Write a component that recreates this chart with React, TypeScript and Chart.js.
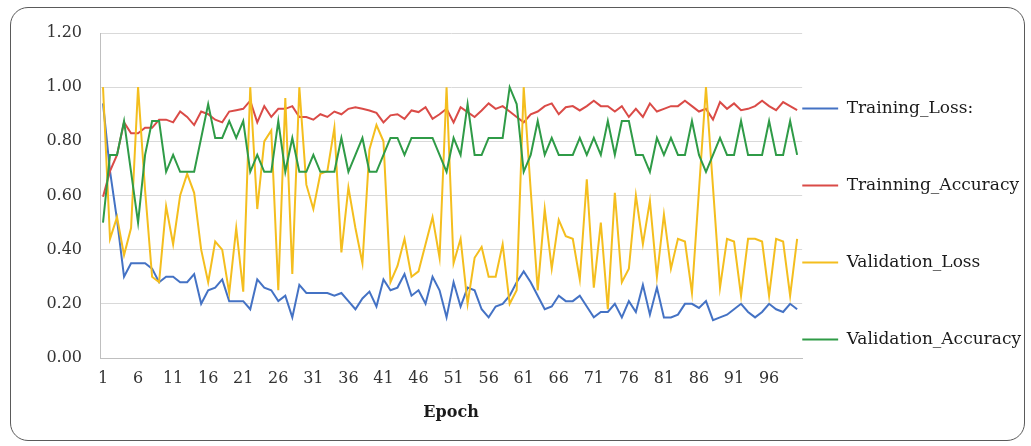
import React, { useEffect, useRef } from "react";
import { Chart, registerables } from "chart.js";

Chart.register(...registerables);

// ---- data ----
const epochs: number[] = Array.from({ length: 100 }, (_, i) => i + 1);
const xTickLabels: number[] = [1, 6, 11, 16, 21, 26, 31, 36, 41, 46, 51, 56, 61, 66, 71, 76, 81, 86, 91, 96];
const yTickMin = 0;
const yTickMax = 1.2;
const yTickStep = 0.2;

const seriesNames: string[] = ["Training_Loss:", "Trainning_Accuracy", "Validation_Loss", "Validation_Accuracy"];

const trainingLoss: number[] = [
  0.94, 0.69, 0.51, 0.30, 0.35, 0.35, 0.35, 0.33, 0.28, 0.30,
  0.30, 0.28, 0.28, 0.31, 0.20, 0.25, 0.26, 0.29, 0.21, 0.21,
  0.21, 0.18, 0.29, 0.26, 0.25, 0.21, 0.23, 0.15, 0.27, 0.24,
  0.24, 0.24, 0.24, 0.23, 0.24, 0.21, 0.18, 0.22, 0.245, 0.19,
  0.29, 0.25, 0.26, 0.31, 0.23, 0.25, 0.20, 0.30, 0.25, 0.15,
  0.28, 0.19, 0.26, 0.25, 0.18, 0.15, 0.19, 0.20, 0.23, 0.28,
  0.32, 0.28, 0.23, 0.18, 0.19, 0.23, 0.21, 0.21, 0.23, 0.19,
  0.15, 0.17, 0.17, 0.20, 0.15, 0.21, 0.17, 0.27, 0.16, 0.26,
  0.15, 0.15, 0.16, 0.20, 0.20, 0.185, 0.21, 0.14, 0.15, 0.16,
  0.18, 0.20, 0.17, 0.15, 0.17, 0.20, 0.18, 0.17, 0.20, 0.18,
];

const trainingAccuracy: number[] = [
  0.595, 0.69, 0.75, 0.87, 0.83, 0.83, 0.85, 0.85, 0.88, 0.88,
  0.87, 0.91, 0.89, 0.86, 0.91, 0.90, 0.88, 0.87, 0.91, 0.915,
  0.92, 0.95, 0.87, 0.93, 0.89, 0.92, 0.92, 0.93, 0.89, 0.89,
  0.88, 0.90, 0.89, 0.91, 0.90, 0.92, 0.926, 0.92, 0.914, 0.905,
  0.87, 0.896, 0.90, 0.883, 0.914, 0.908, 0.926, 0.883, 0.90, 0.92,
  0.87, 0.926, 0.908, 0.89, 0.914, 0.94, 0.92, 0.93, 0.91, 0.89,
  0.87, 0.90, 0.91, 0.93, 0.94, 0.90, 0.926, 0.93, 0.914, 0.93,
  0.95, 0.93, 0.93, 0.91, 0.93, 0.89, 0.92, 0.89, 0.94, 0.91,
  0.92, 0.93, 0.93, 0.95, 0.93, 0.91, 0.92, 0.88, 0.945, 0.92,
  0.94, 0.915, 0.92, 0.93, 0.95, 0.93, 0.915, 0.945, 0.93, 0.915,
];

const validationLoss: number[] = [
  1.0, 0.44, 0.52, 0.38, 0.48, 1.0, 0.62, 0.30, 0.28, 0.56,
  0.42, 0.60, 0.68, 0.61, 0.40, 0.28, 0.43, 0.40, 0.24, 0.48,
  0.245, 1.0, 0.55, 0.80, 0.84, 0.25, 0.96, 0.31, 1.0, 0.64,
  0.55, 0.68, 0.69, 0.85, 0.39, 0.63, 0.48, 0.35, 0.77, 0.86,
  0.80, 0.28, 0.34, 0.44, 0.30, 0.32, 0.42, 0.52, 0.37, 1.0,
  0.35, 0.44, 0.20, 0.37, 0.41, 0.30, 0.30, 0.42, 0.20, 0.25,
  1.0, 0.62, 0.25, 0.55, 0.33, 0.51, 0.45, 0.44, 0.29, 0.66,
  0.26, 0.50, 0.18, 0.61, 0.28, 0.33, 0.60, 0.42, 0.58, 0.30,
  0.53, 0.33, 0.44, 0.43, 0.24, 0.62, 1.0, 0.63, 0.26, 0.44,
  0.43, 0.23, 0.44, 0.44, 0.43, 0.23, 0.44, 0.43, 0.23, 0.44,
];

const validationAccuracy: number[] = [
  0.5, 0.75, 0.75, 0.875, 0.6875, 0.5, 0.75, 0.875, 0.875, 0.6875,
  0.75, 0.6875, 0.6875, 0.6875, 0.8125, 0.9375, 0.8125, 0.8125, 0.875, 0.8125,
  0.875, 0.6875, 0.75, 0.6875, 0.6875, 0.875, 0.6875, 0.8125, 0.6875, 0.6875,
  0.75, 0.6875, 0.6875, 0.6875, 0.8125, 0.6875, 0.75, 0.8125, 0.6875, 0.6875,
  0.75, 0.8125, 0.8125, 0.75, 0.8125, 0.8125, 0.8125, 0.8125, 0.75, 0.6875,
  0.8125, 0.75, 0.9375, 0.75, 0.75, 0.8125, 0.8125, 0.8125, 1.0, 0.9375,
  0.6875, 0.75, 0.875, 0.75, 0.8125, 0.75, 0.75, 0.75, 0.8125, 0.75,
  0.8125, 0.75, 0.875, 0.75, 0.875, 0.875, 0.75, 0.75, 0.6875, 0.8125,
  0.75, 0.8125, 0.75, 0.75, 0.875, 0.75, 0.6875, 0.75, 0.8125, 0.75,
  0.75, 0.875, 0.75, 0.75, 0.75, 0.875, 0.75, 0.75, 0.875, 0.75,
];

const seriesValues: number[][] = [trainingLoss, trainingAccuracy, validationLoss, validationAccuracy];
const seriesColors: string[] = ["#4472C4", "#DA4B47", "#F4BE1E", "#2F9B47"];

const FONT = "'DejaVu Serif', 'Liberation Serif', serif";

export default function App() {
  const canvasRef = useRef<HTMLCanvasElement | null>(null);

  useEffect(() => {
    const canvas = canvasRef.current;
    if (!canvas) return;
    const chart = new Chart(canvas, {
      type: "line",
      data: {
        datasets: seriesNames.map((name, k) => ({
          label: name,
          data: seriesValues[k].map((v, i) => ({ x: epochs[i], y: v })),
          borderColor: seriesColors[k],
          backgroundColor: seriesColors[k],
          borderWidth: 2,
          pointRadius: 0,
          pointHoverRadius: 0,
          tension: 0,
          fill: false,
          order: seriesNames.length - k,
        })),
      },
      options: {
        responsive: false,
        animation: false,
        devicePixelRatio: 1,
        layout: { padding: { left: 46, right: 0, top: 33, bottom: 24 } },
        scales: {
          x: {
            type: "linear",
            min: 0.571,
            max: 100.715,
            afterBuildTicks: (axis: any) => {
              axis.ticks = xTickLabels.map((v) => ({ value: v }));
            },
            afterFit: (s: any) => {
              s.height = 64;
            },
            ticks: {
              autoSkip: false,
              maxRotation: 0,
              minRotation: 0,
              padding: 11,
              color: "#333333",
              font: { family: FONT, size: 16 },
              callback: (v: any) => String(v),
            },
            grid: { display: false, drawTicks: false },
            border: { display: true, color: "#bfbfbf", width: 1 },
            title: {
              display: true,
              text: "Epoch",
              color: "#1a1a1a",
              font: { family: FONT, size: 16, weight: "bold" },
              padding: { top: 15, bottom: 0 },
            },
          },
          y: {
            min: yTickMin,
            max: yTickMax,
            afterFit: (s: any) => {
              s.width = 54;
            },
            ticks: {
              stepSize: yTickStep,
              padding: 18,
              color: "#333333",
              font: { family: FONT, size: 16 },
              callback: (v: any) => Number(v).toFixed(2),
            },
            grid: { color: "#d9d9d9", drawTicks: false, lineWidth: 1 },
            border: { display: true, color: "#bfbfbf", width: 1 },
          },
        },
        plugins: {
          tooltip: { enabled: false },
          legend: {
            position: "right",
            align: "start",
            maxWidth: 231,
            title: {
              display: true,
              text: "",
              padding: { top: 55, bottom: 0 },
              font: { size: 10 },
            },
            labels: {
              usePointStyle: true,
              pointStyle: "line",
              pointStyleWidth: 36,
              padding: 0,
              color: "#1a1a1a",
              font: { family: FONT, size: 17, lineHeight: "77px" },
              sort: (a: any, b: any) => a.datasetIndex - b.datasetIndex,
              generateLabels: (c: any) =>
                (Chart.defaults.plugins.legend.labels as any)
                  .generateLabels(c)
                  .map((l: any) => ({ ...l, text: [l.text], lineWidth: 2 })),
            },
          },
        },
      } as any,
    });
    return () => chart.destroy();
  }, []);

  return (
    <div style={{ position: "fixed", left: 0, top: 0, width: 1031, height: 446, background: "#ffffff" }}>
      <div
        style={{
          position: "absolute",
          left: 10,
          top: 7,
          width: 1013,
          height: 432,
          border: "1px solid #5a5a5a",
          borderRadius: 18,
          boxSizing: "content-box",
          pointerEvents: "none",
        }}
      />
      <canvas ref={canvasRef} width={1031} height={446} style={{ position: "absolute", left: 0, top: 0, width: 1031, height: 446 }} />
    </div>
  );
}
